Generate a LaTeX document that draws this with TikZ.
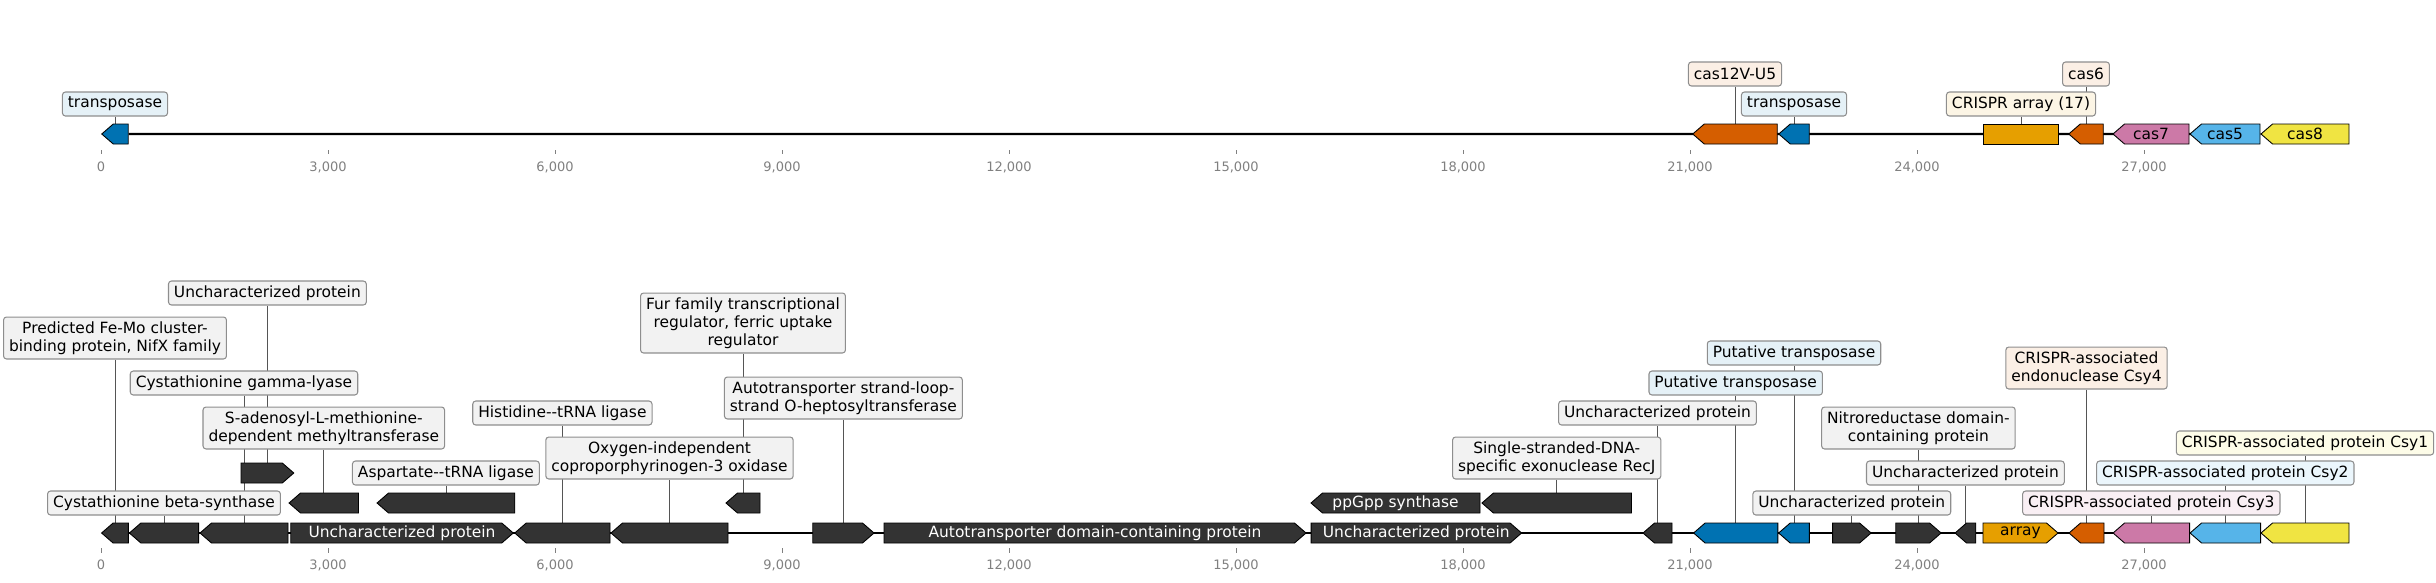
\documentclass[tikz,border=0pt]{standalone}
\usepackage{fontspec}
\setmainfont{DejaVu Sans}
\usepackage{xcolor}
\usepackage{tikz}
\usetikzlibrary{positioning, shapes.symbols}

\definecolor{tblue}{HTML}{0072B2}
\definecolor{verm}{HTML}{D55E00}
\definecolor{orng}{HTML}{E69F00}
\definecolor{pinkc}{HTML}{CC79A7}
\definecolor{sky}{HTML}{56B4E9}
\definecolor{yell}{HTML}{F0E442}
\definecolor{dark}{HTML}{333333}
\definecolor{labgray}{HTML}{F2F2F2}
\definecolor{boxgray}{HTML}{8E8E8E}
\definecolor{linkgray}{HTML}{555555}
\definecolor{axisgray}{HTML}{808080}

\pgfdeclarelayer{bg}
\pgfsetlayers{bg,main}

\begin{document}
\begin{tikzpicture}[x=0.2mm, y=-0.2mm, font=\fontsize{8.8}{10.24}\selectfont]
	\tikzstyle{gene} = [draw=black, line width=0.5pt, signal, signal pointer angle=82, minimum height=4mm, inner sep=0pt, fill=dark, text=white]
	\tikzstyle{fwd} = [gene, signal to=east, xshift=-1.15mm]
	\tikzstyle{rev} = [gene, signal to=west, xshift=1.15mm]
	\tikzstyle{ftext} = [execute at begin node={\hspace*{2.3mm}}]
	\tikzstyle{rtext} = [execute at end node={\hspace*{2.3mm}}]
	\tikzstyle{block} = [draw=black, line width=0.5pt, rectangle, minimum height=4mm, inner sep=0pt]
	\tikzstyle{annot} = [draw=boxgray, fill=labgray, line width=0.6pt, rounded corners=0.6mm, inner xsep=1.1mm, inner ysep=0.9mm, minimum height=4.8mm, align=center]
	\tikzstyle{link} = [draw=linkgray, line width=0.45pt]
	\tikzstyle{spine} = [draw=black, line width=1.2pt]
	\tikzstyle{ticklab} = [text=axisgray, font=\fontsize{7.4}{9}\selectfont, inner sep=0pt]

	\useasboundingbox (0,0) rectangle (2436,582);

	% top locus
	\node[rev, fill=tblue, minimum width=5.3mm]	at (115,134)	(T1) {};
	\node[rev, fill=verm, minimum width=16.9mm]	at (1735,134)	(T2) {};
	\node[rev, fill=tblue, minimum width=6.1mm]	at (1794,134)	(T3) {};
	\node[block, fill=orng, minimum width=14.9mm]	at (2021,134)	(T4) {};
	\node[rev, fill=verm, minimum width=6.9mm]	at (2086,134)	(T5) {};
	\node[rev, rtext, fill=pinkc, text=black, minimum width=15.2mm]	at (2151,134)	(T6) {cas7};
	\node[rev, rtext, fill=sky, text=black, minimum width=14mm]	at (2225,134)	(T7) {cas5};
	\node[rev, rtext, fill=yell, text=black, minimum width=17.6mm]	at (2305,134)	(T8) {cas8};

	\node[annot, fill=tblue!10]	at (115,104)	(lT1) {transposase};
	\node[annot, fill=verm!10]	at (1735,74)	(lT2) {cas12V-U5};
	\node[annot, fill=tblue!10]	at (1794,104)	(lT3) {transposase};
	\node[annot, fill=orng!10]	at (2021,104)	(lT4) {CRISPR array (17)};
	\node[annot, fill=verm!10]	at (2086,74)	(lT5) {cas6};

	% bottom locus
	\node[rev, minimum width=5.36mm]	at (115,533)	(B1) {};
	\node[rev, minimum width=13.84mm]	at (164,533)	(B2) {};
	\node[rev, minimum width=17.6mm]	at (244,533)	(B3) {};
	\node[fwd, ftext, minimum width=44.5mm]	at (402,533)	(B4) {Uncharacterized protein};
	\node[rev, minimum width=19.06mm]	at (562.4,533)	(B5) {};
	\node[rev, minimum width=23.4mm]	at (669.5,533)	(B6) {};
	\node[fwd, minimum width=12.24mm]	at (843.4,533)	(B7) {};
	\node[fwd, ftext, minimum width=84.4mm]	at (1095,533)	(B8) {Autotransporter domain-containing protein};
	\node[fwd, ftext, minimum width=42.1mm]	at (1416.3,533)	(B9) {Uncharacterized protein};
	\node[rev, minimum width=5.8mm]	at (1657.5,533)	(B10) {};
	\node[rev, fill=tblue, minimum width=16.84mm]	at (1735.7,533)	(B11) {};
	\node[rev, fill=tblue, minimum width=6.14mm]	at (1794,533)	(B12) {};
	\node[fwd, minimum width=7.7mm]	at (1851.8,533)	(B13) {};
	\node[fwd, minimum width=9.06mm]	at (1918.4,533)	(B14) {};
	\node[rev, minimum width=4.14mm]	at (1965.4,533)	(B15) {};
	\node[fwd, ftext, fill=orng, text=black, minimum width=15mm]	at (2020.5,533)	(B16) {array};
	\node[rev, fill=verm, minimum width=7mm]	at (2086.5,533)	(B17) {};
	\node[rev, fill=pinkc, minimum width=15.3mm]	at (2151.3,533)	(B18) {};
	\node[rev, fill=sky, minimum width=14.1mm]	at (2225.3,533)	(B19) {};
	\node[rev, fill=yell, minimum width=17.6mm]	at (2305,533)	(B20) {};

	\node[rev, minimum width=13.9mm]	at (323.8,503)	(B21) {};
	\node[rev, minimum width=27.54mm]	at (445.9,503)	(B22) {};
	\node[rev, minimum width=6.8mm]	at (743,503)	(B23) {};
	\node[rev, rtext, minimum width=33.8mm]	at (1395.5,503)	(B24) {ppGpp synthase};
	\node[rev, minimum width=29.9mm]	at (1556.7,503)	(B25) {};
	\node[fwd, minimum width=10.55mm]	at (267.4,473)	(B26) {};

	\node[annot]	at (115,338)	(lB1) {Predicted Fe-Mo cluster-\\binding protein, NifX family};
	\node[annot]	at (164,503)	(lB2) {Cystathionine beta-synthase};
	\node[annot]	at (244,383)	(lB3) {Cystathionine gamma-lyase};
	\node[annot]	at (267.4,293)	(lB26) {Uncharacterized protein};
	\node[annot]	at (323.8,428)	(lB21) {S-adenosyl-L-methionine-\\dependent methyltransferase};
	\node[annot]	at (445.9,473)	(lB22) {Aspartate-{}-tRNA ligase};
	\node[annot]	at (562.4,413)	(lB5) {Histidine-{}-tRNA ligase};
	\node[annot]	at (669.5,458)	(lB6) {Oxygen-independent\\coproporphyrinogen-3 oxidase};
	\node[annot]	at (743,323)	(lB23) {Fur family transcriptional\\regulator, ferric uptake\\regulator};
	\node[annot]	at (843.4,398)	(lB7) {Autotransporter strand-loop-\\strand O-heptosyltransferase};
	\node[annot]	at (1556.7,458)	(lB25) {Single-stranded-DNA-\\specific exonuclease RecJ};
	\node[annot]	at (1657.5,413)	(lB10) {Uncharacterized protein};
	\node[annot, fill=tblue!10]	at (1735.7,383)	(lB11) {Putative transposase};
	\node[annot, fill=tblue!10]	at (1794,353)	(lB12) {Putative transposase};
	\node[annot]	at (1851.8,503)	(lB13) {Uncharacterized protein};
	\node[annot]	at (1918.4,428)	(lB14) {Nitroreductase domain-\\containing protein};
	\node[annot]	at (1965.4,473)	(lB15) {Uncharacterized protein};
	\node[annot, fill=verm!10]	at (2086.5,368)	(lB17) {CRISPR-associated\\endonuclease Csy4};
	\node[annot, fill=pinkc!12]	at (2151.3,503)	(lB18) {CRISPR-associated protein Csy3};
	\node[annot, fill=sky!12]	at (2225.3,473)	(lB19) {CRISPR-associated protein Csy2};
	\node[annot, fill=yell!12]	at (2305,443)	(lB20) {CRISPR-associated protein Csy1};

	% axes
	\foreach \x/\t [count=\k] in {101/0, 328/{3,000}, 555/{6,000}, 782/{9,000}, 1009/{12,000}, 1236/{15,000}, 1463/{18,000}, 1690/{21,000}, 1917/{24,000}, 2144/{27,000}} {
		\node[ticklab] at (\x,167) (ta\k) {\t};
		\node[ticklab] at (\x,565) (tb\k) {\t};
		\draw[axisgray, line width=0.4pt] (\x,150) -- (\x,154);
		\draw[axisgray, line width=0.4pt] (\x,548) -- (\x,553);
	}

	\begin{pgfonlayer}{bg}
		\draw[spine] (T1) -- (T8);
		\draw[spine] (B1) -- (B20);
		\foreach \g in {T1,T2,T3,T4,T5}
			\draw[link] (l\g) -- (l\g |- \g);
		\foreach \g in {B1,B2,B3,B5,B6,B7,B10,B11,B12,B13,B14,B15,B17,B18,B19,B20,B21,B22,B23,B25,B26}
			\draw[link] (l\g) -- (l\g |- \g);
	\end{pgfonlayer}
\end{tikzpicture}
\end{document}
